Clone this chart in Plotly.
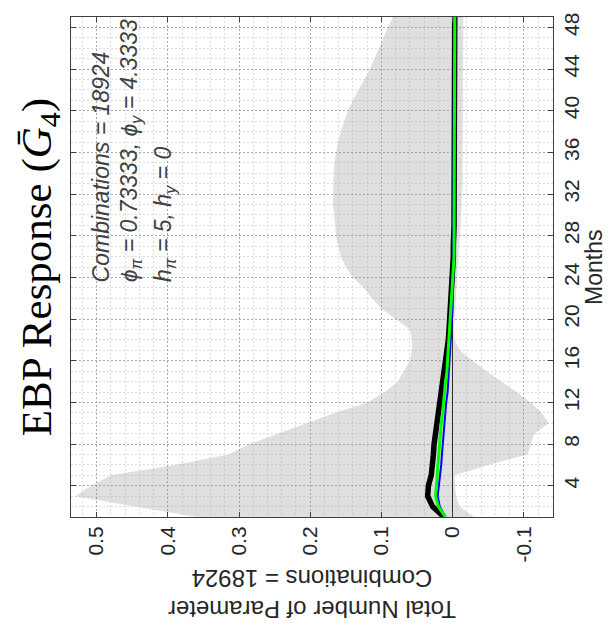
import plotly.graph_objects as go

months = list(range(1, 50))

band_max = [0.36, 0.445, 0.53, 0.508, 0.48, 0.39, 0.315, 0.285, 0.245, 0.205,
            0.165, 0.12, 0.095, 0.077, 0.068, 0.060, 0.057, 0.057, 0.060, 0.080,
            0.100, 0.113, 0.125, 0.140, 0.150, 0.157, 0.161, 0.164, 0.165, 0.167,
            0.168, 0.168, 0.168, 0.167, 0.166, 0.164, 0.161, 0.157, 0.152, 0.147,
            0.140, 0.132, 0.124, 0.116, 0.110, 0.103, 0.097, 0.091, 0.084]

band_min = [-0.03, -0.01, -0.005, -0.003, -0.003, -0.05, -0.105, -0.11, -0.115, -0.135,
            -0.125, -0.11, -0.09, -0.068, -0.048, -0.028, -0.010, -0.003, -0.002, -0.002,
            -0.003, -0.004, -0.005, -0.006, -0.007, -0.008, -0.009, -0.010, -0.011, -0.012,
            -0.013, -0.013, -0.014, -0.014, -0.014, -0.015, -0.015, -0.015, -0.015, -0.015,
            -0.015, -0.015, -0.015, -0.015, -0.015, -0.015, -0.015, -0.015, -0.015]

resp_black = [0.012, 0.028, 0.035, 0.034, 0.030, 0.028, 0.027, 0.026, 0.024, 0.022,
              0.019, 0.017, 0.015, 0.013, 0.011, 0.009, 0.007, 0.006, 0.005, 0.004,
              0.003, 0.002, 0.001, 0.000, -0.001, -0.001, -0.001, -0.002, -0.002, -0.002,
              -0.002, -0.002, -0.002, -0.003, -0.003, -0.003, -0.003, -0.003, -0.003, -0.003,
              -0.003, -0.003, -0.003, -0.003, -0.003, -0.003, -0.003, -0.003, -0.003]

resp_green = [0.010, 0.020, 0.024, 0.023, 0.022, 0.021, 0.020, 0.019, 0.017, 0.016,
              0.014, 0.013, 0.011, 0.010, 0.008, 0.007, 0.006, 0.005, 0.004, 0.003,
              0.002, 0.001, 0.000, -0.001, -0.001, -0.002, -0.002, -0.002, -0.003, -0.003,
              -0.003, -0.003, -0.003, -0.003, -0.003, -0.003, -0.003, -0.003, -0.003, -0.003,
              -0.003, -0.003, -0.003, -0.003, -0.003, -0.003, -0.003, -0.003, -0.003]

resp_blue = [0.010, 0.018, 0.021, 0.019, 0.017, 0.016, 0.015, 0.014, 0.012, 0.011,
             0.010, 0.009, 0.007, 0.006, 0.005, 0.004, 0.003, 0.002, 0.002, 0.001,
             0.000, 0.000, -0.001, -0.001, -0.001, -0.001, -0.001, -0.002, -0.002, -0.002,
             -0.002, -0.002, -0.002, -0.002, -0.002, -0.002, -0.002, -0.002, -0.002, -0.002,
             -0.002, -0.002, -0.002, -0.002, -0.002, -0.002, -0.002, -0.002, -0.002]

value_ticks = [0.5, 0.4, 0.3, 0.2, 0.1, 0, -0.1]
value_tick_labels = ["0.5", "0.4", "0.3", "0.2", "0.1", "0", "-0.1"]
month_ticks = list(range(4, 49, 4))

fig = go.Figure()

fig.add_trace(go.Scatter(
    x=band_max + band_min[::-1], y=months + months[::-1],
    fill="toself", fillcolor="rgba(150,150,150,0.3)",
    line=dict(width=0), mode="lines", hoverinfo="skip", showlegend=False))

fig.add_trace(go.Scatter(x=resp_black, y=months, mode="lines",
                         line=dict(color="black", width=5.5), showlegend=False))
fig.add_trace(go.Scatter(x=resp_blue, y=months, mode="lines",
                         line=dict(color="#0000ff", width=2), showlegend=False))
fig.add_trace(go.Scatter(x=resp_green, y=months, mode="lines",
                         line=dict(color="#00ff00", width=3), showlegend=False))

tickfont = dict(family="Liberation Sans, Arial", size=21, color="#262626")

fig.update_xaxes(
    range=[0.536, -0.141], tickvals=value_ticks, ticktext=value_tick_labels,
    tickangle=-90, tickfont=tickfont, ticks="inside", ticklen=5, tickcolor="#404040",
    showline=True, linecolor="#404040", linewidth=1, mirror="ticks",
    showgrid=True, gridcolor="#a8a8a8", griddash="2px,2px", gridwidth=1,
    zeroline=True, zerolinecolor="black", zerolinewidth=1,
    minor=dict(dtick=0.02, tick0=0, showgrid=True, gridcolor="#dcdcdc",
               griddash="2px,2px", gridwidth=1, ticks=""),
)
fig.update_yaxes(
    range=[1, 49], tickvals=month_ticks, side="right",
    tickangle=-90, tickfont=tickfont, ticks="inside", ticklen=5, tickcolor="#404040",
    showline=True, linecolor="#404040", linewidth=1, mirror="ticks",
    showgrid=True, gridcolor="#a8a8a8", griddash="2px,2px", gridwidth=1,
    zeroline=False,
    minor=dict(dtick=1, tick0=0, showgrid=True, gridcolor="#dcdcdc",
               griddash="2px,2px", gridwidth=1, ticks=""),
)

annots = [
    dict(text="EBP Response (<i>G\u0304</i><sub>4</sub>)", x=-0.064, y=0.5,
         xref="paper", yref="paper", textangle=-90, showarrow=False,
         xanchor="center", yanchor="middle",
         font=dict(family="Liberation Serif, Times New Roman", size=43, color="black")),
    dict(text="Months", x=1.085, y=0.5, xref="paper", yref="paper", textangle=-90,
         showarrow=False, xanchor="center", yanchor="middle",
         font=dict(family="Liberation Sans, Arial", size=23, color="#262626")),
    dict(text="Total Number of Parameter<br>Combinations = 18924", x=0.5, y=-0.155,
         xref="paper", yref="paper", textangle=180, showarrow=False,
         xanchor="center", yanchor="middle",
         font=dict(family="Liberation Sans, Arial", size=24, color="#262626")),
    dict(text="<i>Combinations = 18924</i>", x=0.062, y=0.466, xref="paper", yref="paper",
         textangle=-90, showarrow=False, xanchor="center", yanchor="bottom",
         font=dict(family="Liberation Sans, Arial", size=23, color="#404040")),
    dict(text="<i>\u03d5</i><sub><i>\u03c0</i></sub><i> = 0.73333, \u03d5</i><sub><i>y</i></sub><i> = 4.3333</i>",
         x=0.124, y=0.466, xref="paper", yref="paper",
         textangle=-90, showarrow=False, xanchor="center", yanchor="bottom",
         font=dict(family="Liberation Sans, Arial", size=23, color="#404040")),
    dict(text="<i>h</i><sub><i>\u03c0</i></sub><i> = 5, h</i><sub><i>y</i></sub><i> = 0</i>",
         x=0.194, y=0.466, xref="paper", yref="paper",
         textangle=-90, showarrow=False, xanchor="center", yanchor="bottom",
         font=dict(family="Liberation Sans, Arial", size=23, color="#404040")),
]

fig.update_layout(
    width=614, height=627,
    margin=dict(l=63, r=69, t=5, b=118),
    paper_bgcolor="white", plot_bgcolor="white",
    annotations=annots, showlegend=False,
)

fig.write_html("out.html")
